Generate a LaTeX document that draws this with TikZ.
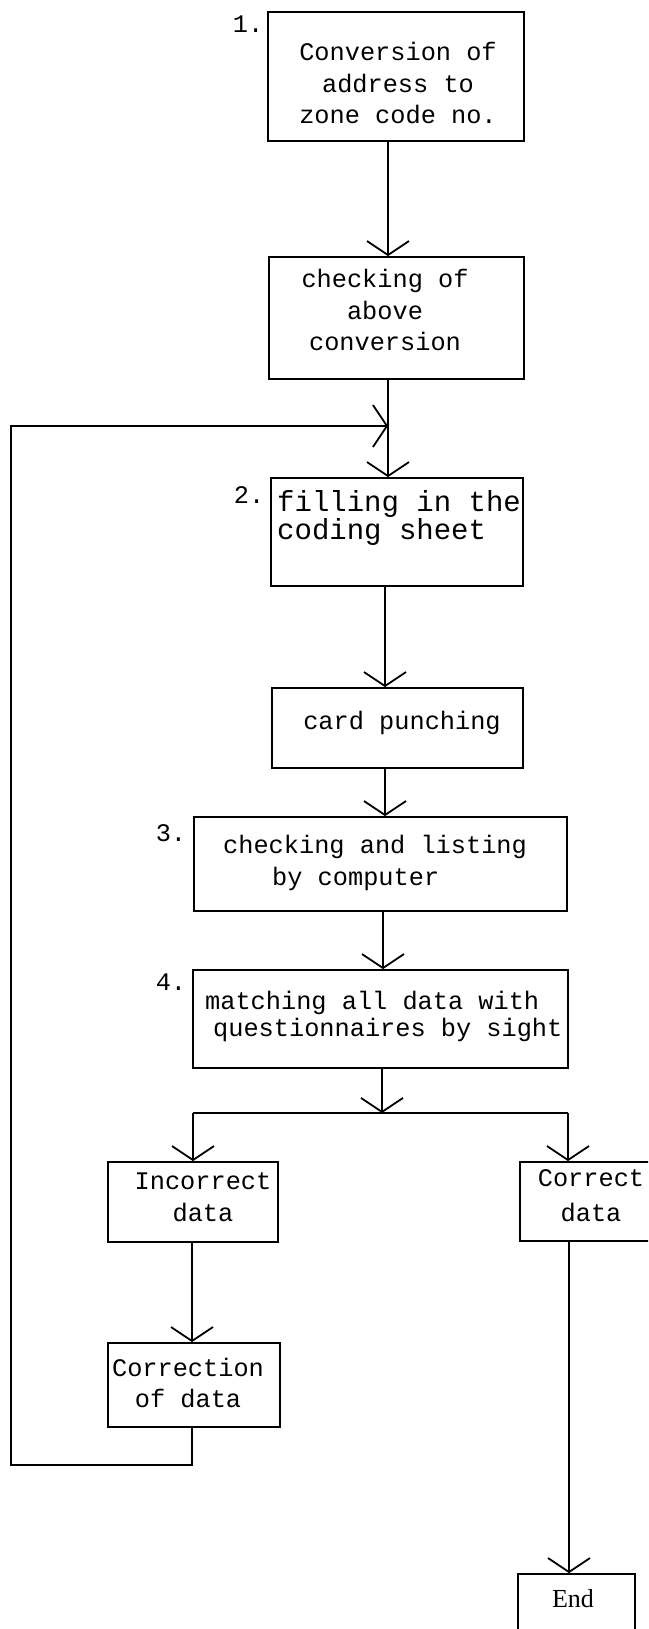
\documentclass[tikz,border=0pt]{standalone}
\usepackage{fontspec}
\usetikzlibrary{arrows.meta}
\newfontfamily\typer{Liberation Mono}
\newfontfamily\endfont{Liberation Serif}
\tikzset{
  box/.style={draw, line width=1.8pt, inner sep=0pt},
  txt/.style={font=\typer\fontsize{25.3}{31.5}\selectfont, inner sep=0pt, align=center},
  num/.style={font=\typer\fontsize{25.3}{31.5}\selectfont, inner sep=0pt},
  ln/.style={line width=1.8pt},
  arr/.style={line width=1.8pt, -{Straight Barb[length=14pt,width=42pt]}},
}
\begin{document}
\begin{tikzpicture}[x=1pt,y=-1pt]
\useasboundingbox (0,0) rectangle (648,1629);
\fill[white] (0,0) rectangle (648,1629);
\clip (0,0) rectangle (648,1629);
% boxes
\node[box, minimum width=256, minimum height=129] (b1) at (396,76.5) {};
\node[box, minimum width=255, minimum height=122] (b2) at (396.5,318) {};
\node[box, minimum width=252, minimum height=108] (b3) at (397,532) {};
\node[box, minimum width=251, minimum height=80] (b4) at (397.5,728) {};
\node[box, minimum width=373, minimum height=94] (b5) at (380.5,864) {};
\node[box, minimum width=375, minimum height=98] (b6) at (380.5,1019) {};
\node[box, minimum width=170, minimum height=80] (b7) at (193,1202) {};
\node[box, minimum width=142, minimum height=79] (b8) at (591,1201.5) {};
\node[box, minimum width=172, minimum height=84] (b9) at (194,1385) {};
\node[box, minimum width=117, minimum height=86] (b10) at (576.5,1617) {};
% texts
\node[txt] (t1) at (398,83) {Conversion of\\address to\\zone code no.};
\node[txt] (t2) at (385,310) {checking of\\above\\conversion};
\node[txt, align=left, anchor=west, font=\typer\fontsize{29}{28}\selectfont] (t3) at (277,518) {filling in the\\coding sheet};
\node[txt] (t4) at (402,723) {card punching};
\node[txt, align=left, anchor=west] (t5) at (223,863) {checking and listing\\\hspace*{49pt}by computer};
\node[txt, align=left, anchor=west, font=\typer\fontsize{25.3}{27}\selectfont] (t6) at (205,1016) {matching all data with\\\hspace*{8pt}questionnaires by sight};
\node[txt] (t7) at (203,1197) {Incorrect\\data};
\node[txt, font=\typer\fontsize{25.3}{35}\selectfont] (t8) at (591,1196) {Correct\\data};
\node[txt] (t9) at (188,1383) {Correction\\of data};
\node[inner sep=0pt, font=\endfont\fontsize{26}{30}\selectfont] (t10) at (573,1599) {End};
% step numbers
\node[num] (n1) at (248,24) {1.};
\node[num] (n2) at (249,495) {2.};
\node[num] (n3) at (171,833) {3.};
\node[num] (n4) at (171,982) {4.};
% connector columns
\coordinate (xa) at (388,0);
\coordinate (xb) at (385,0);
\coordinate (xc) at (383,0);
\coordinate (xd) at (192,0);
\coordinate (xe) at (569,0);
\coordinate (split) at (382,1113);
\coordinate (sl) at (193,1113);
\coordinate (sr) at (568,1113);
\coordinate (lb) at (11,1465);
\coordinate (lt) at (11,426);
\coordinate (lm) at (388,426);
% connectors
\draw[arr] (b1.south -| xa) -- (b2.north -| xa);
\draw[arr] (b2.south -| xa) -- (b3.north -| xa);
\draw[arr] (b3.south -| xb) -- (b4.north -| xb);
\draw[arr] (b4.south -| xb) -- (b5.north -| xb);
\draw[arr] (b5.south -| xc) -- (b6.north -| xc);
\draw[arr] (b6.south -| split) -- (split);
\draw[ln] (sl) -- (sr);
\draw[arr] (sl) -- (b7.north);
\draw[arr] (sr) -- (b8.north -| sr);
\draw[arr] (b7.south -| xd) -- (b9.north -| xd);
\draw[arr] (b8.south -| xe) -- (b10.north -| xe);
\draw[arr] (b9.south -| xd) -- (xd |- lb) -- (lb) -- (lt) -- (lm);
\end{tikzpicture}
\end{document}
